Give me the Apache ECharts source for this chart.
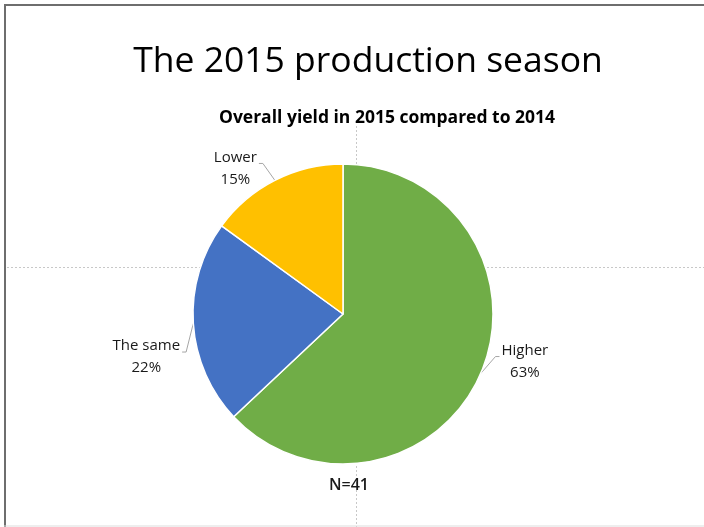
<!DOCTYPE html>
<html>
<head>
<meta charset="utf-8">
<script src="https://cdn.jsdelivr.net/npm/echarts@6/dist/echarts.min.js"></script>
<style>
  html, body { margin: 0; padding: 0; background: #fff; }
  #chart { width: 704px; height: 527px; }
</style>
</head>
<body>
<div id="chart"></div>
<script>
// Survey answers: overall yield in 2015 compared to 2014
const categories = ['Higher', 'The same', 'Lower'];
const shares = [63, 22, 15];
const colors = ['#70AD47', '#4472C4', '#FFC000'];
const sampleNote = 'N=41';
const mainTitle = 'The 2015 production season';
const subTitle = 'Overall yield in 2015 compared to 2014';

const fontFamily = '"Open Sans", "Noto Sans", sans-serif';
const labelFont = '15px ' + fontFamily;

// nudges for the outside labels so they sit beside their slices
const labelNudge = {
  'Higher':   { dx: -14, dy: -16 },
  'The same': { dx: 12,  dy: 33 },
  'Lower':    { dx: 14,  dy: -3 }
};

// width of the widest line of a label, for attaching its leader line
const measureCtx = document.createElement('canvas').getContext('2d');
function textWidth(lines) {
  measureCtx.font = labelFont;
  return Math.max.apply(null, lines.map(s => measureCtx.measureText(s).width));
}

const chart = echarts.init(document.getElementById('chart'), null, { renderer: 'canvas' });

const guideStyle = { stroke: '#c8c8c8', lineWidth: 1, lineDash: [2, 2] };

chart.setOption({
  backgroundColor: '#ffffff',
  animation: false,
  title: [
    {
      text: mainTitle,
      left: 363, top: 39, textAlign: 'center',
      textStyle: { fontFamily, fontSize: 35.5, fontWeight: 'normal', color: '#000000' }
    },
    {
      text: subTitle,
      left: 382, top: 104, textAlign: 'center',
      textStyle: { fontFamily, fontSize: 17.5, fontWeight: 'bold', color: '#000000' }
    },
    {
      text: sampleNote,
      left: 344, top: 472, textAlign: 'center',
      textStyle: { fontFamily, fontSize: 16, fontWeight: 600, color: '#1a1a1a' }
    }
  ],
  graphic: [
    // slide frame
    { type: 'line', shape: { x1: 4, y1: 5, x2: 704, y2: 5 }, style: { stroke: '#6e6e6e', lineWidth: 2 }, z: 10 },
    { type: 'line', shape: { x1: 5, y1: 4, x2: 5, y2: 527 }, style: { stroke: '#6e6e6e', lineWidth: 2 }, z: 10 },
    { type: 'line', shape: { x1: 4, y1: 526, x2: 704, y2: 526 }, style: { stroke: '#dddddd', lineWidth: 1 }, z: 10 },
    // dotted guides
    { type: 'line', shape: { x1: 7, y1: 267.5, x2: 704, y2: 267.5 }, style: guideStyle, z: -1 },
    { type: 'line', shape: { x1: 356.5, y1: 126, x2: 356.5, y2: 527 }, style: guideStyle, z: -1 }
  ],
  series: [
    {
      type: 'pie',
      center: [343, 314],
      radius: 150,
      startAngle: 90,
      clockwise: true,
      avoidLabelOverlap: false,
      z: 2,
      itemStyle: { borderColor: '#ffffff', borderWidth: 1.5 },
      label: {
        show: true,
        position: 'outside',
        formatter: '{t|{b}}\n{t|{d}%}',
        color: '#1a1a1a',
        fontFamily,
        fontSize: 15,
        rich: {
          t: { fontFamily, fontSize: 15, color: '#1a1a1a', align: 'center', width: 76, lineHeight: 22 }
        }
      },
      labelLine: {
        show: true,
        length: 10,
        length2: 6,
        smooth: false,
        lineStyle: { color: '#a6a6a6', width: 1 }
      },
      labelLayout: function (params) {
        const name = categories[params.dataIndex];
        const n = labelNudge[name];
        if (!n) return {};
        const out = { dx: n.dx, dy: n.dy };
        const pts = params.labelLinePoints;
        const r = params.labelRect;
        if (pts && pts.length === 3 && r) {
          const cx = r.x + r.width / 2 + n.dx;
          const cy = r.y + r.height / 2 + n.dy;
          const half = textWidth([name, shares[params.dataIndex] + '%']) / 2;
          const onLeft = pts[2][0] < pts[0][0];
          const sgn = onLeft ? 1 : -1;
          const end = [cx + sgn * (half + 2), cy - 5];
          const elbow = [end[0] + sgn * 4, end[1]];
          // leader runs from the slice edge to the side of the text
          out.labelLinePoints = [pts[0].slice(), elbow, end];
        }
        return out;
      },
      data: categories.map((name, i) => ({
        name,
        value: shares[i],
        itemStyle: { color: colors[i] }
      }))
    }
  ]
});
</script>
</body>
</html>
